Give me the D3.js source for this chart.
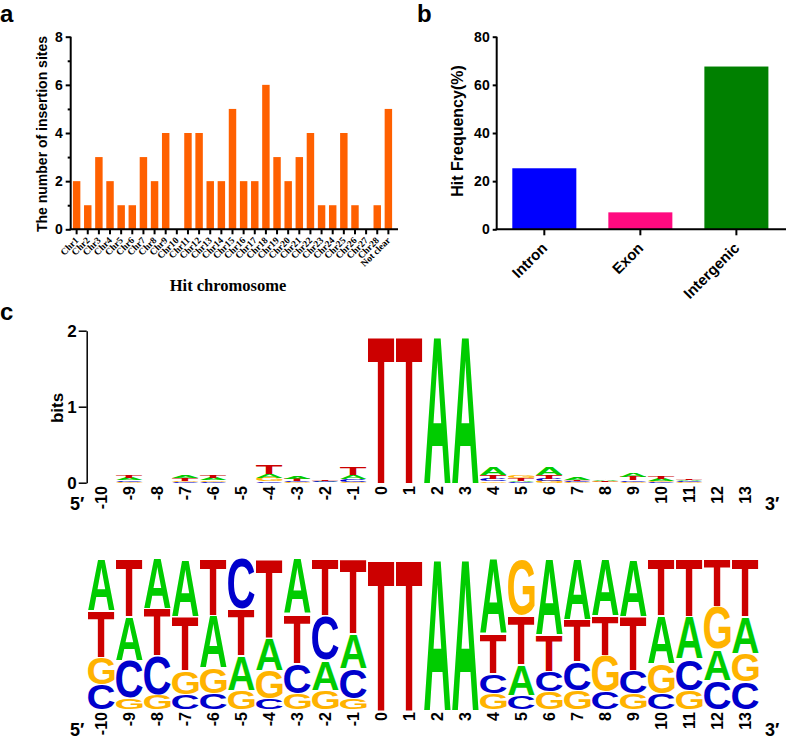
<!DOCTYPE html>
<html><head><meta charset="utf-8">
<script src="https://cdn.jsdelivr.net/npm/d3@7/dist/d3.min.js"></script>
<style>body{margin:0;background:#fff}svg{display:block}</style>
</head><body>
<svg id="chart" width="787" height="739"></svg>
<script>
// ---------- DATA ----------
const chrCategories = ["Chr1","Chr2","Chr3","Chr4","Chr5","Chr6","Chr7","Chr8","Chr9","Chr10",
  "Chr11","Chr12","Chr13","Chr14","Chr15","Chr16","Chr17","Chr18","Chr19","Chr20",
  "Chr21","Chr22","Chr23","Chr24","Chr25","Chr26","Chr27","Chr28","Not clear"];
const chrCounts = [2,1,3,2,1,1,3,2,4,0, 4,4,2,2,5,2,2,6,3,2, 3,4,1,1,4,1,0,1,5];
const chrTicks = [0,2,4,6,8];
const chrMinorTicks = [1,3,5,7];

const regionCategories = ["Intron","Exon","Intergenic"];
const regionFrequency = [25.35, 7.04, 67.61];
const regionTicks = [0,20,40,60,80];
const regionColors = ["#0000ff","#ff0a80","#008000"];

const logoPositions = [-10,-9,-8,-7,-6,-5,-4,-3,-2,-1,0,1,2,3,4,5,6,7,8,9,10,11,12,13];
const freqA = [0.34,0.29,0.325,0.375,0.35,0.23,0.215,0.36,0.20,0.235,0,0,1,1,0.49,0.21,0.50,0.40,0.37,0.375,0.32,0.28,0.21,0.245];
const freqC = [0.17,0.25,0.26,0.10,0.11,0.33,0.075,0.20,0.30,0.20,0,0,0,0,0.13,0.095,0.135,0.19,0.12,0.155,0.11,0.21,0.195,0.185];
const freqG = [0.18,0.08,0.10,0.16,0.17,0.13,0.19,0.11,0.13,0.075,0,0,0,0,0.11,0.37,0.12,0.13,0.24,0.11,0.20,0.13,0.285,0.19];
const freqT = [0.31,0.38,0.315,0.365,0.37,0.31,0.52,0.33,0.37,0.49,1,1,0,0,0.27,0.325,0.245,0.28,0.27,0.36,0.37,0.38,0.31,0.38];
const bitsTotal = [0,0.09,0,0.10,0.105,0,0.237,0.08,0.035,0.20,1.94,1.94,1.94,1.94,0.21,0.09,0.21,0.066,0.04,0.12,0.08,0.06,0,0];
const bitsTicks = [0,1,2];
const baseColors = {A:"#00cc00", C:"#0000cc", G:"#ffb300", T:"#cc0000"};

// ---------- SETUP ----------
const SANS = "'Liberation Sans', Arial, Helvetica, sans-serif";
const SERIF = "'Liberation Serif', 'Times New Roman', serif";
const svg = d3.select("#chart");

svg.selectAll("text.panel").data([["a",0,22],["b",417,22],["c",0,320]]).join("text")
  .attr("class","panel").attr("x",d=>d[1]).attr("y",d=>d[2]).text(d=>d[0])
  .attr("font-family",SANS).attr("font-weight","bold").attr("font-size",24);

function styleAxis(g, sw) {
  g.selectAll("path,line").attr("stroke","#000").attr("stroke-width",sw);
  g.selectAll("text").attr("font-family",SANS).attr("font-weight","bold").attr("fill","#000");
}

// ---------- PANEL A ----------
const yA = d3.scaleLinear().domain([0,8]).range([229.3,36.7]);
const xA = d3.scaleBand().domain(chrCategories).range([71,394]).paddingInner(0.33).paddingOuter(0.17);
const gA = svg.append("g");
gA.selectAll("rect").data(chrCategories).join("rect")
  .attr("x",d=>xA(d)).attr("width",xA.bandwidth())
  .attr("y",(d,i)=>yA(chrCounts[i])).attr("height",(d,i)=>yA(0)-yA(chrCounts[i]))
  .attr("fill","#ff6000");
const ayA = gA.append("g").attr("transform","translate(70.7,0)")
  .call(d3.axisLeft(yA).tickValues(chrTicks).tickSize(5).tickSizeOuter(0).tickPadding(3));
ayA.select(".domain").attr("d", `M0,${yA(0)}V${yA(8)}`);
styleAxis(ayA,2); ayA.selectAll("text").attr("font-size",14);
const ayAm = gA.append("g").attr("transform","translate(70.7,0)")
  .call(d3.axisLeft(yA).tickValues(chrMinorTicks).tickSize(3).tickFormat(""));
ayAm.select(".domain").remove(); styleAxis(ayAm,2);
const axA = gA.append("g").attr("transform",`translate(0,${yA(0)})`)
  .call(d3.axisBottom(xA).tickSize(5).tickFormat(""));
axA.select(".domain").remove(); styleAxis(axA,2);
gA.append("line").attr("x1",69.7).attr("x2",398).attr("y1",yA(0)).attr("y2",yA(0)).attr("stroke","#000").attr("stroke-width",2);
gA.selectAll("text.xl").data(chrCategories).join("text").attr("class","xl")
  .attr("transform",d=>`translate(${xA(d)+xA.bandwidth()/2+2.5},241) rotate(-45)`)
  .attr("text-anchor","end").attr("font-family",SERIF).attr("font-weight","bold").attr("font-size",9.5)
  .text(d=>d);
gA.append("text").attr("x",228).attr("y",291).attr("text-anchor","middle")
  .attr("font-family",SERIF).attr("font-weight","bold").attr("font-size",16.5).text("Hit chromosome");
gA.append("text").attr("transform","translate(47,134) rotate(-90)").attr("text-anchor","middle")
  .attr("font-family",SANS).attr("font-weight","bold").attr("font-size",14).text("The number of insertion sites");

// ---------- PANEL B ----------
const yB = d3.scaleLinear().domain([0,80]).range([229.3,36.7]);
const xB = d3.scaleBand().domain(regionCategories).range([496.7,784]).paddingInner(1/3).paddingOuter(0.1625);
const gB = svg.append("g");
gB.selectAll("rect").data(regionCategories).join("rect")
  .attr("x",d=>xB(d)).attr("width",xB.bandwidth())
  .attr("y",(d,i)=>yB(regionFrequency[i])).attr("height",(d,i)=>yB(0)-yB(regionFrequency[i]))
  .attr("fill",(d,i)=>regionColors[i]);
const ayB = gB.append("g").attr("transform","translate(496.7,0)")
  .call(d3.axisLeft(yB).tickValues(regionTicks).tickSize(4).tickSizeOuter(0).tickPadding(3));
ayB.select(".domain").attr("d",`M0,${yB(0)}V${yB(80)}`);
styleAxis(ayB,2); ayB.selectAll("text").attr("font-size",14);
const axB = gB.append("g").attr("transform",`translate(0,${yB(0)})`)
  .call(d3.axisBottom(xB).tickSize(6).tickFormat(""));
axB.select(".domain").remove(); styleAxis(axB,2);
gB.append("line").attr("x1",495.7).attr("x2",786).attr("y1",yB(0)).attr("y2",yB(0)).attr("stroke","#000").attr("stroke-width",2);
gB.selectAll("text.xl").data(regionCategories).join("text").attr("class","xl")
  .attr("transform",d=>`translate(${xB(d)+xB.bandwidth()/2+4},249) rotate(-45)`)
  .attr("text-anchor","end").attr("font-family",SANS).attr("font-weight","bold").attr("font-size",15)
  .text(d=>d);
gB.append("text").attr("transform","translate(463,131) rotate(-90)").attr("text-anchor","middle")
  .attr("font-family",SANS).attr("font-weight","bold").attr("font-size",16).text("Hit Frequency(%)");

// ---------- LOGOS ----------
const xL = d3.scaleBand().domain(logoPositions).range([87.3,759.3]).paddingInner(0.05).paddingOuter(0.025);
const canvas = document.createElement("canvas");
const ctx = canvas.getContext("2d");
ctx.font = "bold 100px 'Liberation Sans'";
const ink = {};
["A","C","G","T"].forEach(b=>{
  const m = ctx.measureText(b);
  ink[b] = {l:m.actualBoundingBoxLeft, r:m.actualBoundingBoxRight, a:m.actualBoundingBoxAscent, d:m.actualBoundingBoxDescent};
});

function drawLogo(g, yScale, totals, gap) {
  logoPositions.forEach((p,i)=>{
    const letters = [["A",freqA[i]],["C",freqC[i]],["G",freqG[i]],["T",freqT[i]]]
      .filter(d=>d[1]>0).sort((a,b)=>a[1]-b[1]);
    let cum = 0;
    const x0 = xL(p), w = xL.bandwidth();
    letters.forEach(([b,f],k)=>{
      const v = f*totals[i];
      let yb = yScale(cum), yt = yScale(cum+v);
      cum += v;
      if (k < letters.length-1 && yb-yt > 4*gap) yt += gap;
      const h = yb-yt;
      if (h < 0.4) return;
      const m = ink[b];
      const sx = w/(m.l+m.r), sy = h/(m.a+m.d);
      g.append("text").text(b)
        .attr("font-family","'Liberation Sans'").attr("font-weight","bold").attr("font-size",100)
        .attr("fill",baseColors[b])
        .attr("transform",`translate(${x0+m.l*sx},${yb-m.d*sy}) scale(${sx},${sy})`);
    });
  });
}
function drawPosLabels(g, yTop) {
  g.selectAll("text.pl").data(logoPositions).join("text").attr("class","pl")
    .attr("transform",d=>`translate(${xL(d)+xL.bandwidth()/2},${yTop}) rotate(-90)`)
    .attr("text-anchor","end").attr("dy","0.35em")
    .attr("font-family",SANS).attr("font-weight","bold").attr("font-size",16).text(d=>d);
}

// top logo (information content)
const yT = d3.scaleLinear().domain([0,2]).range([482.7,330.7]);
const gT = svg.append("g");
drawLogo(gT, yT, bitsTotal, 0);
const ayT = gT.append("g").attr("transform","translate(86.7,0)")
  .call(d3.axisLeft(yT).tickValues(bitsTicks).tickFormat(d3.format("d")).tickSize(8).tickSizeOuter(0).tickPadding(2));
styleAxis(ayT,1.5); ayT.selectAll("text").attr("font-size",17);
drawPosLabels(gT, 486);
gT.append("text").attr("transform","translate(63,408) rotate(-90)").attr("text-anchor","middle")
  .attr("font-family",SANS).attr("font-weight","bold").attr("font-size",17).text("bits");
gT.append("text").attr("x",70).attr("y",510).attr("font-family",SANS).attr("font-weight","bold").attr("font-size",18).text("5′");
gT.append("text").attr("x",765).attr("y",510).attr("font-family",SANS).attr("font-weight","bold").attr("font-size",18).text("3′");

// bottom logo (probability)
const yP = d3.scaleLinear().domain([0,1]).range([709.5,559.3]);
const gP = svg.append("g");
drawLogo(gP, yP, logoPositions.map(()=>1), 1.2);
drawPosLabels(gP, 712);
gP.append("text").attr("x",70).attr("y",736).attr("font-family",SANS).attr("font-weight","bold").attr("font-size",18).text("5′");
gP.append("text").attr("x",765).attr("y",736).attr("font-family",SANS).attr("font-weight","bold").attr("font-size",18).text("3′");
</script>
</body></html>
